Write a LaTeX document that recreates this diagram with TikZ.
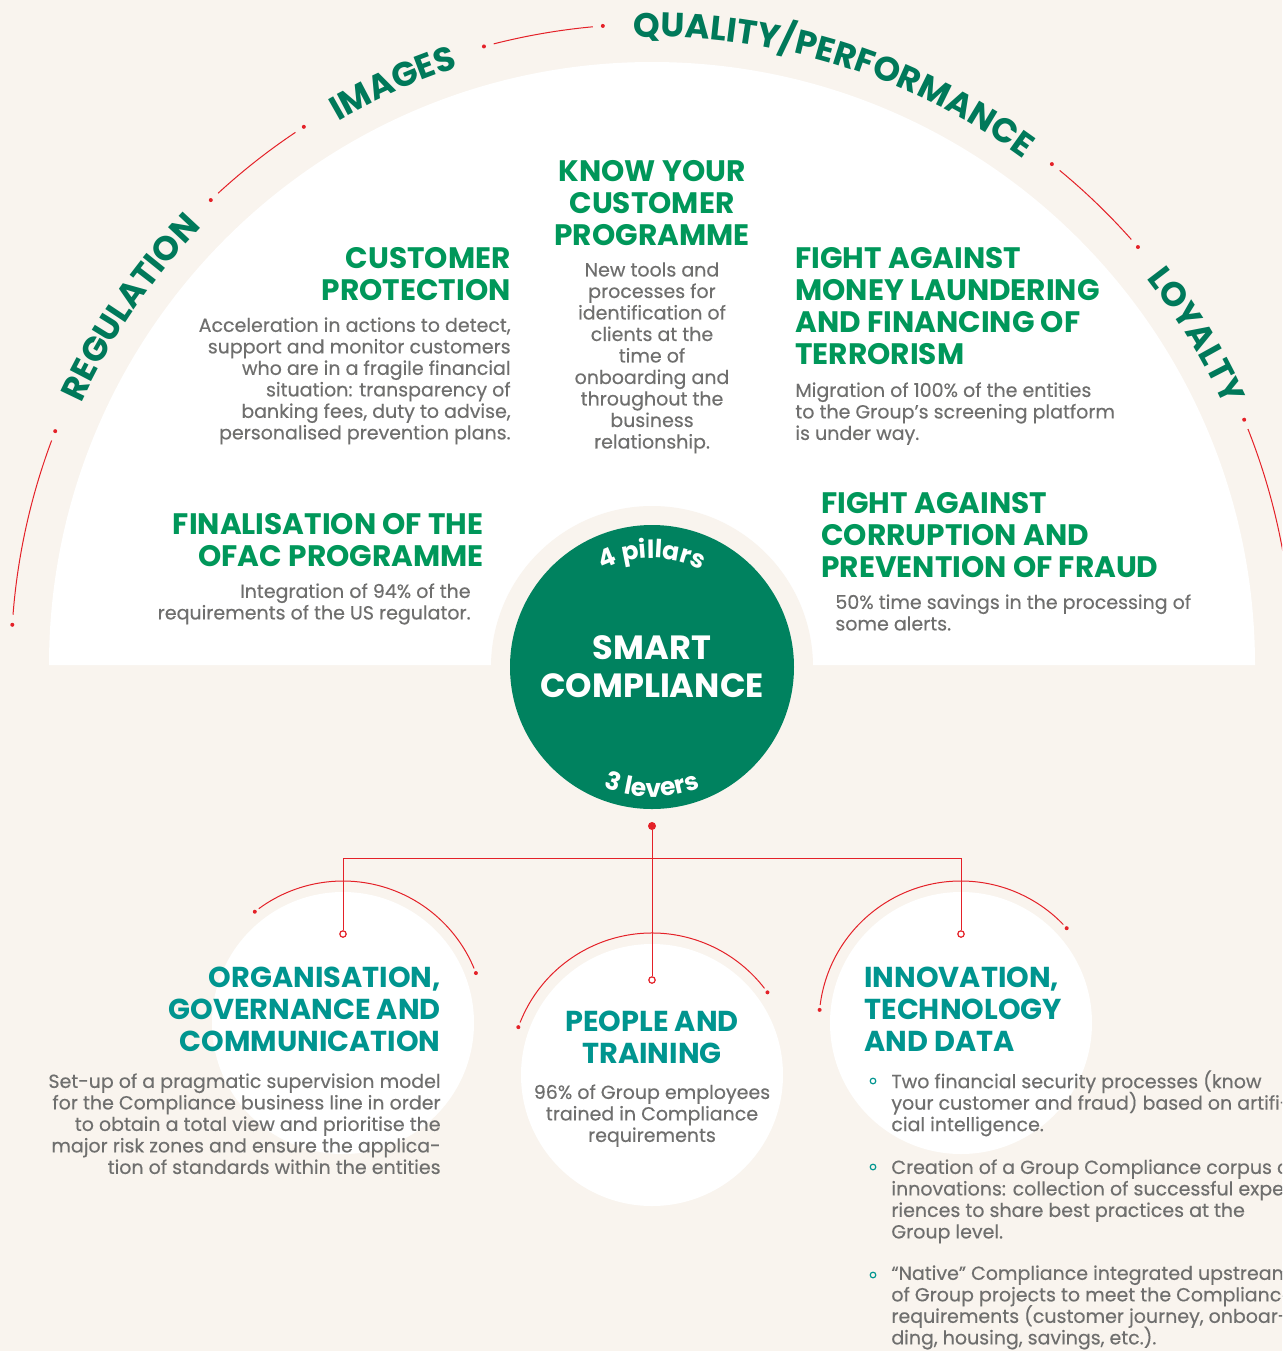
\documentclass[tikz,border=0pt]{standalone}
\usepackage{fontspec}
\setmainfont{Poppins}
\newfontfamily\bodyfam{Poppins}[FakeBold=0.35]
\usepackage{xcolor}
\usepackage{tikz}
\usetikzlibrary{decorations.text,positioning}

\definecolor{cream}{HTML}{F9F4EE}
\definecolor{pillargreen}{HTML}{00975A}
\definecolor{ringgreen}{HTML}{00795A}
\definecolor{hubgreen}{HTML}{00825F}
\definecolor{leverteal}{HTML}{00958F}
\definecolor{bodygray}{HTML}{6F6F6E}
\definecolor{linered}{HTML}{E42128}

\newcommand{\headfont}{\fontsize{14.8}{16}\selectfont\bfseries}
\newcommand{\leverfont}{\fontsize{14.4}{16}\selectfont\bfseries}
\newcommand{\bodyfont}{\bodyfam\fontsize{9.5}{10.75}\selectfont\lineskiplimit=-20pt}
\newcommand{\ringfont}{\fontsize{17}{20}\selectfont\bfseries}
\newcommand{\hubfont}{\fontsize{16.8}{19}\selectfont\bfseries}
\newcommand{\capfont}{\fontsize{12.5}{14}\selectfont\bfseries}

\begin{document}
\begin{tikzpicture}
[x=0.5pt, y=0.5pt,
 pillarhead/.style={font=\headfont, text=pillargreen, inner sep=0pt},
 leverhead/.style={font=\leverfont, text=leverteal, inner sep=0pt},
 bodytext/.style={font=\bodyfont, text=bodygray, inner sep=0pt},
 levercirc/.style={circle, fill=white, inner sep=0pt, minimum size=131pt},
 hubdot/.style={circle, fill=linered, inner sep=0pt, minimum size=4pt},
 opendot/.style={circle, draw=linered, fill=white, line width=0.6pt, inner sep=0pt, minimum size=3.2pt},
 bullet/.style={circle, draw=leverteal, line width=0.6pt, inner sep=0pt, minimum size=2.8pt},
 redline/.style={draw=linered, line width=0.5pt},
 ringtext/.style={decorate, decoration={text along path, text align=center, text color=ringgreen, text={|\ringfont|#1}}}]
\useasboundingbox (0,0) rectangle (1282,-1351);
\clip (0,0) rectangle (1282,-1351);
\fill[cream] (0,0) rectangle (1282,-1351);

% half disc and hub
\coordinate (ring) at (652,-665);
\fill[white] (49,-665) arc[start angle=180, end angle=0, radius=603] -- cycle;
\fill[cream] (652,-667) circle[radius=161];
\node[circle, fill=hubgreen, minimum size=142pt, inner sep=0pt, font=\hubfont, text=white, align=center] (smart) at (652,-667) {SMART\\COMPLIANCE};
\path[decorate, decoration={text along path, text align=center, text color=white, text={|\capfont|4 pillars}}]
  (smart.center) ++(130:109) arc[start angle=130, end angle=50, radius=109];
\path[decorate, decoration={text along path, text align=center, text color=white, text={|\capfont|3 levers}}]
  (smart.center) ++(230:130) arc[start angle=230, end angle=310, radius=130];

% outer ring
\foreach \a/\b in {176.4/158.6, 133.5/122.9, 105.2/94.4, 51.4/40.7, 22.5/3.6} {
  \draw[redline] (ring) ++(\a-0.9:641) arc[start angle=\a-0.9, end angle=\b+0.9, radius=641];
  \fill[linered] (ring) ++(\a:641) circle[radius=2];
  \fill[linered] (ring) ++(\b:641) circle[radius=2];
}
\path[ringtext=REGULATION] (ring) ++(175.6:628) arc[start angle=175.6, end angle=115.6, radius=628];
\path[ringtext=IMAGES] (ring) ++(134:628) arc[start angle=134, end angle=94, radius=628];
\path[ringtext=QUALITY/PERFORMANCE] (ring) ++(112.7:628) arc[start angle=112.7, end angle=32.7, radius=628];
\path[ringtext=LOYALTY] (ring) ++(56.2:628) arc[start angle=56.2, end angle=6.2, radius=628];

% pillars
\node[pillarhead, anchor=north, align=center] (kyc) at (652,-160) {KNOW YOUR\\CUSTOMER\\PROGRAMME};
\node[bodytext, anchor=north, align=center] (kycbody) at (652,-262) {New tools and\\processes for\\identification of\\clients at the\\time of\\onboarding and\\throughout the\\business\\relationship.};
\node[pillarhead, anchor=north east, align=right] (cp) at (511,-247) {CUSTOMER\\PROTECTION};
\node[bodytext, anchor=north east, align=right] (cpbody) at (511,-317) {Acceleration in actions to detect,\\support and monitor customers\\who are in a fragile financial\\situation: transparency of\\banking fees, duty to advise,\\personalised prevention plans.};
\node[pillarhead, anchor=north west, align=left] (faml) at (795,-247) {FIGHT AGAINST\\MONEY LAUNDERING\\AND FINANCING OF\\TERRORISM};
\node[bodytext, anchor=north west, align=left] (famlbody) at (795,-382) {Migration of 100\% of the entities\\to the Group’s screening platform\\is under way.};
\node[pillarhead, anchor=north east, align=right] (ofac) at (484,-513) {FINALISATION OF THE\\OFAC PROGRAMME};
\node[bodytext, anchor=north east, align=right] (ofacbody) at (471,-583) {Integration of 94\% of the\\requirements of the US regulator.};
\node[pillarhead, anchor=north west, align=left] (fcor) at (821,-492) {FIGHT AGAINST\\CORRUPTION AND\\PREVENTION OF FRAUD};
\node[bodytext, anchor=north west, align=left] (fcorbody) at (835,-594) {50\% time savings in the processing of\\some alerts.};

% levers
\node[levercirc] (orgc) at (343,-1023) {};
\node[levercirc] (pplc) at (652,-1075) {};
\node[levercirc] (invc) at (961,-1023) {};
\foreach \c/\a/\b in {orgc/128.4/20.6, pplc/160.3/35.6, invc/174.7/41.9} {
  \draw[redline] (\c.center) ++(\a-2:142) arc[start angle=\a-2, end angle=\b+2, radius=142];
  \fill[linered] (\c.center) ++(\a:142) circle[radius=2];
  \fill[linered] (\c.center) ++(\b:142) circle[radius=2];
}

\node[leverhead, anchor=north east, align=right] (org) at (441,-967) {ORGANISATION,\\GOVERNANCE AND\\COMMUNICATION};
\node[bodytext, anchor=north east, align=right] (orgbody) at (441,-1073) {Set-up of a pragmatic supervision model\\for the Compliance business line in order\\to obtain a total view and prioritise the\\major risk zones and ensure the applica-\\tion of standards within the entities};
\node[leverhead, anchor=north, align=center] (ppl) at (652,-1011) {PEOPLE AND\\TRAINING};
\node[bodytext, anchor=north, align=center] (pplbody) at (652,-1084) {96\% of Group employees\\trained in Compliance\\requirements};
\node[leverhead, anchor=north west, align=left] (inv) at (864,-967) {INNOVATION,\\TECHNOLOGY\\AND DATA};
\node[bodytext, anchor=north west, align=left] (inv1) at (891,-1070) {Two financial security processes (know\\your customer and fraud) based on artifi-\\cial intelligence.};
\node[bodytext, anchor=north west, align=left] (inv2) at (891,-1159) {Creation of a Group Compliance corpus of\\innovations: collection of successful expe-\\riences to share best practices at the\\Group level.};
\node[bodytext, anchor=north west, align=left] (inv3) at (891,-1265) {“Native” Compliance integrated upstream\\of Group projects to meet the Compliance\\requirements (customer journey, onboar-\\ding, housing, savings, etc.).};
\node[bullet] (b1) at (873,-1081) {};
\node[bullet] (b2) at (873,-1167) {};
\node[bullet] (b3) at (873,-1275) {};

% tree
\node[hubdot] (hub) at (652,-826) {};
\node[opendot] (o1) at (343,-934) {};
\node[opendot] (o2) at (652,-980) {};
\node[opendot] (o3) at (961,-934) {};
\coordinate (bar) at (652,-858);
\draw[redline] (hub) -- (o2);
\draw[redline] (o1) |- (bar) -| (o3);
\end{tikzpicture}
\end{document}
